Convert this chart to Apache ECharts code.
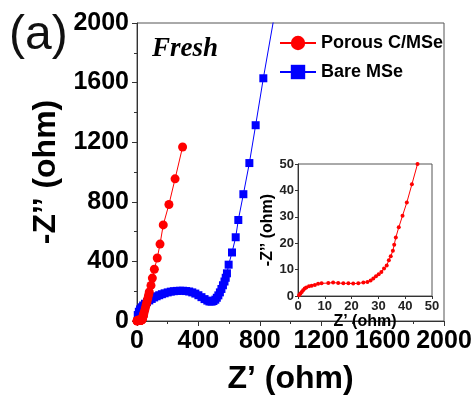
<!DOCTYPE html>
<html>
<head>
<meta charset="utf-8">
<script src="https://cdn.jsdelivr.net/npm/echarts@6/dist/echarts.min.js"></script>
<style>
  html, body {margin: 0; padding: 0; background: #fff;}
  #chart {width: 476px; height: 400px;}
</style>
</head>
<body>
<div id="chart"></div>
<script>
// low-impedance part of Porous C/MSe (also shown in the inset)
const porousLow = [
  [0.4, 0.25], [0.9, 0.9], [1.4, 1.5], [1.9, 2.2], [2.5, 2.8], [3.1, 3.2], [4.1, 3.7],
  [5.1, 3.9], [6.3, 4.2], [7.5, 4.6], [8.8, 4.8], [11.3, 4.9], [13.1, 5.1], [15, 4.9],
  [16.9, 4.8], [18.8, 4.8], [20.6, 4.7], [22.5, 4.8], [24.4, 5.1], [25.9, 5.3], [27.1, 5.9],
  [28.1, 6.6], [29.1, 7.5], [30.1, 8.2], [31.1, 9.1], [32.1, 10.4], [33.1, 11.6], [33.9, 13.5],
  [34.6, 15.1], [35.4, 17.1], [35.9, 19.4], [36.5, 22.2], [37.6, 26], [39, 30.4], [40.6, 35.4],
  [42.5, 42.3], [44.6, 50]
];
const porousHigh = [
  [50, 70], [55, 90], [60, 110], [65, 130], [70, 150], [75, 172], [80, 195], [91, 239],
  [100, 288], [113, 347], [132, 423], [150, 516], [171, 645], [208, 782], [248, 954], [297, 1168]
];
const bareMSe = [
  [5, 40], [12, 62], [20, 78], [30, 92], [40, 104], [52, 116], [65, 127], [80, 138], [96, 148],
  [112, 158], [128, 166], [145, 173], [162, 180], [180, 186], [200, 192], [220, 197], [240, 200],
  [260, 202], [280, 203], [300, 203], [320, 201], [340, 198], [360, 192], [380, 184], [400, 173],
  [420, 160], [440, 147], [458, 137], [472, 131], [486, 130], [498, 134], [510, 143], [520, 156],
  [530, 172], [540, 192], [550, 215], [560, 240], [570, 265], [578, 290], [586, 320], [597, 378],
  [619, 460], [643, 562], [660, 678], [693, 851], [732, 1060], [773, 1314], [823, 1629], [900, 2080]
];
const mainTicks = {min: 0, max: 2000, interval: 400};
const insetTicks = {min: 0, max: 50, interval: 10};

const FONT = '"Liberation Sans", Arial, sans-serif';
const axisCol = '#333';

function mainAxis(name, gap) {
  return {
    type: 'value',
    min: mainTicks.min, max: mainTicks.max, interval: mainTicks.interval,
    name, nameLocation: 'middle', nameGap: gap,
    nameTextStyle: {fontFamily: FONT, fontWeight: 'bold', fontSize: 32, color: '#000'},
    axisLine: {show: true, onZero: false, lineStyle: {color: axisCol, width: 1}},
    axisTick: {show: true, inside: false, length: 5, lineStyle: {color: axisCol}},
    minorTick: {show: true, splitNumber: 2, length: 3, lineStyle: {color: axisCol}},
    splitLine: {show: false},
    axisLabel: {
      fontFamily: FONT, fontWeight: 'bold', fontSize: 25, color: '#000', margin: 8,
      interval: 0, hideOverlap: false, showMinLabel: true, showMaxLabel: true,
      formatter: v => String(v)
    }
  };
}
function insetAxis(name, gap, idx) {
  return {
    type: 'value', gridIndex: idx,
    min: insetTicks.min, max: insetTicks.max, interval: insetTicks.interval,
    name, nameLocation: 'middle', nameGap: gap,
    nameTextStyle: {fontFamily: FONT, fontWeight: 'bold', fontSize: 16, color: '#000'},
    axisLine: {show: true, onZero: false, lineStyle: {color: axisCol, width: 1}},
    axisTick: {show: true, inside: false, length: 3, lineStyle: {color: axisCol}},
    splitLine: {show: false},
    axisLabel: {fontFamily: FONT, fontWeight: 'bold', fontSize: 13, color: '#222', margin: 4,
      interval: 0, showMinLabel: true, showMaxLabel: true}
  };
}

const chart = echarts.init(document.getElementById('chart'));
chart.setOption({
  animation: false,
  backgroundColor: '#fff',
  grid: [
    {left: 137, top: 23, width: 307, height: 307, show: true, borderColor: '#555', borderWidth: 1},
    {left: 298, top: 164, width: 134, height: 132, show: true, borderColor: '#555', borderWidth: 1, backgroundColor: '#fff'}
  ],
  xAxis: [
    mainAxis('Z\u2019 (ohm)', 42),
    insetAxis('Z\u2019 (ohm)', 15, 1)
  ],
  yAxis: [
    mainAxis('-Z\u2019\u2019 (ohm)', 59),
    insetAxis('-Z\u2019\u2019 (ohm)', 16, 1)
  ],
  legend: {
    data: ['Porous C/MSe', 'Bare MSe'],
    orient: 'vertical',
    left: 274, top: 29,
    itemWidth: 36, itemHeight: 18, itemGap: 11,
    lineStyle: {width: 2},
    textStyle: {fontFamily: FONT, fontWeight: 'bold', fontSize: 18, color: '#000'}
  },
  graphic: [
    {type: 'text', left: 9, top: 12, style: {text: '(a)', font: '48px ' + FONT, fill: '#111',
      shadowColor: 'rgba(0,0,0,0.35)', shadowBlur: 3, shadowOffsetX: 1, shadowOffsetY: 2}},
    {type: 'text', left: 152, top: 36, style: {text: 'Fresh', font: 'italic bold 27px "Liberation Serif", "Times New Roman", serif', fill: '#000'}}
  ],
  series: [
    {
      name: 'Bare MSe', type: 'line', xAxisIndex: 0, yAxisIndex: 0,
      data: bareMSe, symbol: 'rect', symbolSize: 8, clip: true,
      itemStyle: {color: '#0000ff'}, lineStyle: {color: '#0000ff', width: 1}
    },
    {
      name: 'Porous C/MSe', type: 'line', xAxisIndex: 0, yAxisIndex: 0,
      data: porousLow.concat(porousHigh), symbol: 'circle', symbolSize: 9, clip: true,
      itemStyle: {color: '#ff0000'}, lineStyle: {color: '#ff0000', width: 1}
    },
    {
      name: 'inset', type: 'line', xAxisIndex: 1, yAxisIndex: 1,
      data: porousLow.concat(porousHigh.slice(0, 1)), symbol: 'circle', symbolSize: 4, clip: true,
      itemStyle: {color: '#ff0000'}, lineStyle: {color: '#ff0000', width: 1}
    }
  ]
});
</script>
</body>
</html>
